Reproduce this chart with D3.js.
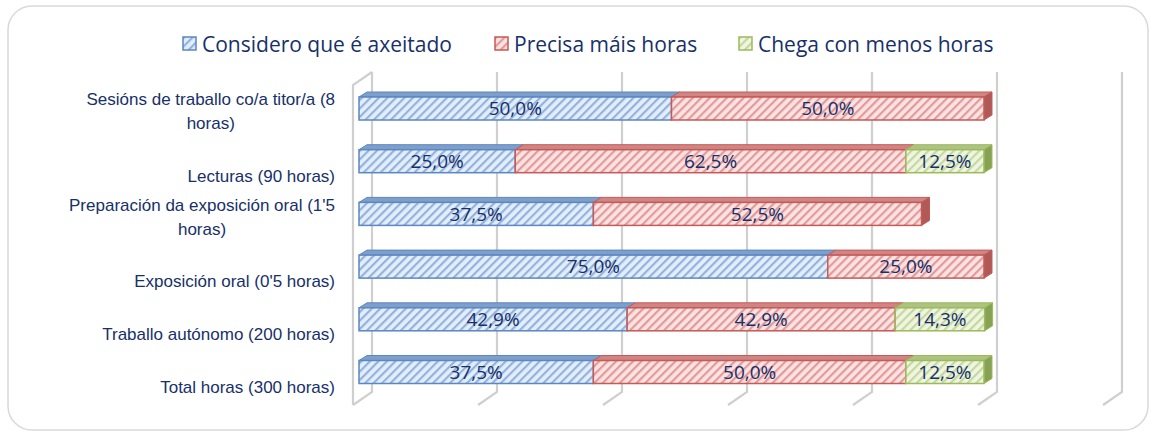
<!DOCTYPE html>
<html>
<head>
<meta charset="utf-8">
<script src="https://cdn.jsdelivr.net/npm/d3@7"></script>
<style>
  body { margin: 0; background: #fff; }
  svg { display: block; font-family: "Open Sans", "Noto Sans", sans-serif; }
</style>
</head>
<body>
<svg id="chart" width="1154" height="434"></svg>
<script>
const categories = [
  "Sesións de traballo co/a titor/a (8|horas)",
  "Lecturas (90 horas)",
  "Preparación da exposición oral (1'5|horas)",
  "Exposición oral (0'5 horas)",
  "Traballo autónomo (200 horas)",
  "Total horas (300 horas)"
];
const seriesNames = ["Considero que é axeitado", "Precisa máis horas", "Chega con menos horas"];
const axeitado = [50.0, 25.0, 37.5, 75.0, 42.9, 37.5];
const maisHoras = [50.0, 62.5, 52.5, 25.0, 42.9, 50.0];
const menosHoras = [0, 12.5, 0, 0, 14.3, 12.5];
const gridTicks = [0, 20, 40, 60, 80, 100, 120];

const colors = [
  { bg: '#e4eefa', line: '#93b3df', edge: '#5b87c2', top: '#7f9fcb', side: '#5a7fb0' },
  { bg: '#fae3e2', line: '#e39a98', edge: '#c55a57', top: '#cf8583', side: '#b05a58' },
  { bg: '#eff5e2', line: '#c5d99d', edge: '#9bbb59', top: '#aec282', side: '#87a254' }
];

const svg = d3.select('#chart');
const defs = svg.append('defs');
colors.forEach((c, i) => {
  const p = defs.append('pattern')
    .attr('id', 'hatch' + i)
    .attr('patternUnits', 'userSpaceOnUse')
    .attr('width', 6).attr('height', 6)
    .attr('patternTransform', 'rotate(45)');
  p.append('rect').attr('width', 6).attr('height', 6).attr('fill', c.bg);
  p.append('rect').attr('width', 2.2).attr('height', 6).attr('fill', c.line);
});

// frame
svg.append('rect')
  .attr('x', 8).attr('y', 6).attr('width', 1140).attr('height', 424)
  .attr('rx', 24).attr('fill', '#fff')
  .attr('stroke', '#d9d9d9').attr('stroke-width', 1.5);

const x = d3.scaleLinear().domain([0, 120]).range([359, 1109]);
const y = d3.scalePoint().domain(categories).range([108.5, 372]);
const backDx = 13, frontDx = -6, wallTop = 72, wallBottom = 392, floorFront = 405;

// grid lines with 3D floor
const grid = svg.append('g');
gridTicks.forEach(t => {
  const bx = x(t) + backDx;
  grid.append('path')
    .attr('d', `M${bx},${wallTop}V${wallBottom}L${x(t) + frontDx},${floorFront}`)
    .attr('fill', 'none').attr('stroke', '#cfcfcf').attr('stroke-width', 2.2);
});
// left wall
grid.append('path')
  .attr('d', `M${x(0) + frontDx},${floorFront}V${wallTop + 13}L${x(0) + backDx},${wallTop}`)
  .attr('fill', 'none').attr('stroke', '#cfcfcf').attr('stroke-width', 2.2);

// bars
const series = [axeitado, maisHoras, menosHoras];
const rows = categories.map((cat, r) => {
  let acc = 0;
  const segs = series.map((s, i) => {
    const seg = { i, v: s[r], x0: acc, x1: acc + s[r] };
    acc += s[r];
    return seg;
  }).filter(d => d.v > 0);
  return { cat, segs };
});

const h = 23, dx = 8, dy = 5;
const rowG = svg.selectAll('g.row').data(rows).join('g').attr('class', 'row');
rowG.each(function(row) {
  const g = d3.select(this);
  const cy = y(row.cat), top = cy - h / 2;
  row.segs.forEach((s, k) => {
    const c = colors[s.i];
    const a = x(s.x0), b = x(s.x1);
    g.append('path')
      .attr('d', `M${a},${top}L${a + dx},${top - dy}L${b + dx},${top - dy}L${b},${top}Z`)
      .attr('fill', c.top).attr('stroke', c.edge).attr('stroke-width', 1);
    if (k === row.segs.length - 1) {
      g.append('path')
        .attr('d', `M${b},${top}L${b + dx},${top - dy}L${b + dx},${top + h - dy}L${b},${top + h}Z`)
        .attr('fill', c.side).attr('stroke', c.edge).attr('stroke-width', 1);
    }
    g.append('rect')
      .attr('x', a).attr('y', top).attr('width', b - a).attr('height', h)
      .attr('fill', `url(#hatch${s.i})`).attr('stroke', c.edge).attr('stroke-width', 1.5);
    g.append('text')
      .attr('x', (a + b) / 2).attr('y', cy).attr('dy', '0.36em')
      .attr('text-anchor', 'middle').attr('font-size', 19).attr('fill', '#17306a')
      .text(s.v.toFixed(1).replace('.', ',') + '%');
  });
});

// category axis
const yAxis = d3.axisLeft(y).tickSize(0).tickPadding(0).tickFormat('');
const axisG = svg.append('g').attr('transform', 'translate(335,0)').call(yAxis);
axisG.select('.domain').remove();
axisG.selectAll('.tick').each(function(d) {
  const lines = d.split('|');
  const t = d3.select(this).append('text')
    .attr('text-anchor', 'middle').attr('font-size', 17).attr('fill', '#17306a');
  const spans = lines.map((ln, i) => t.append('tspan')
    .attr('y', 14 - (lines.length - 1 - i) * 24)
    .attr('dy', '0.36em')
    .text(ln));
  const w = d3.max(spans, s => s.node().getComputedTextLength());
  spans.forEach(s => s.attr('x', -w / 2));
});

// legend
const legendX = [183, 495, 739];
const legend = svg.selectAll('g.legend').data(seriesNames).join('g')
  .attr('class', 'legend')
  .attr('transform', (d, i) => `translate(${legendX[i]},37)`);
legend.append('rect').attr('width', 13).attr('height', 13)
  .attr('fill', (d, i) => `url(#hatch${i})`)
  .attr('stroke', (d, i) => colors[i].edge).attr('stroke-width', 1.5);
legend.append('text').attr('x', 19).attr('y', 7).attr('dy', '0.36em')
  .attr('font-size', 21).attr('fill', '#17306a')
  .text(d => d);
</script>
</body>
</html>
